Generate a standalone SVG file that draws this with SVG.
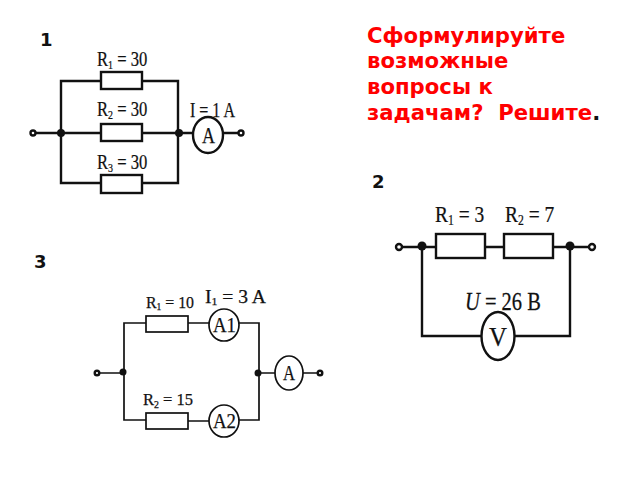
<svg xmlns="http://www.w3.org/2000/svg" width="640" height="480" viewBox="0 0 640 480">
<style>
.w{fill:none;stroke:#111;stroke-width:2.4}
.r{fill:#fff;stroke:#111;stroke-width:2.4}
.n{fill:#111}
.t{fill:#fff;stroke:#111;stroke-width:2.4}
.k{stroke-width:1.7}
.h{font-family:"DejaVu Sans",sans-serif;font-weight:bold}
.q{font-size:21.2px;fill:#f00}
.num{font-size:18px;fill:#111}
.l{font-family:"Liberation Serif",serif;fill:#111;stroke:#111;stroke-width:.25}
.a{font-size:21px}
.b{font-size:24px}
.s{font-size:.6em}
</style>
<rect width="640" height="480" fill="#fff"/>
<g id="connectors">
<path class="w" d="M35 133H101M142 133H193M223 133H238M61 133V81H101M142 81H178V183H142M61 133V183H101"/>
<path class="w" d="M402 247H436M486 247H504M554 247H589M422 247V336H482M514 336H570V247"/>
<path class="w k" d="M100 373H124M258 373H275M303 373H317M124 373V323H146M188 323H209M239 323H259V420H239M209 421H188M146 420H124V373"/>
</g>
<g id="heading">
<text class="h q" x="367" y="43">Сформулируйте</text>
<text class="h q" x="367" y="68">возможные</text>
<text class="h q" x="367" y="94">вопросы к</text>
<text class="h q" x="367" y="120" xml:space="preserve">задачам?  Решите<tspan fill="#111">.</tspan></text>
</g>
<g id="num1"><text class="h num" x="40" y="46">1</text></g>
<g id="num2"><text class="h num" x="372" y="188">2</text></g>
<g id="num3"><text class="h num" x="34" y="268">3</text></g>
<g id="c1-r1"><rect class="r" x="101" y="72" width="41" height="17"/><text class="l a" transform="translate(97 66) scale(.79 1)">R<tspan class="s" dy="3">1</tspan><tspan dy="-3"> = 30</tspan></text></g>
<g id="c1-r2"><rect class="r" x="101" y="124" width="41" height="17"/><text class="l a" transform="translate(97 116) scale(.79 1)">R<tspan class="s" dy="3">2</tspan><tspan dy="-3"> = 30</tspan></text></g>
<g id="c1-r3"><rect class="r" x="101" y="175" width="41" height="18"/><text class="l a" transform="translate(97 169) scale(.79 1)">R<tspan class="s" dy="3">3</tspan><tspan dy="-3"> = 30</tspan></text></g>
<g id="c1-ammeter"><ellipse class="r" cx="208" cy="135" rx="15" ry="18"/><text class="l" x="202" y="143" font-size="23" textLength="13" lengthAdjust="spacingAndGlyphs">A</text><text class="l a" x="190" y="117" textLength="45" lengthAdjust="spacingAndGlyphs">I = 1 A</text></g>
<g id="c1-nodes"><circle class="n" cx="61" cy="133" r="4"/><circle class="n" cx="179" cy="133" r="4"/><circle class="t" cx="33" cy="133" r="2.5"/><circle class="t" cx="241" cy="133" r="2.5"/></g>
<g id="c2-r1"><rect class="r" x="436" y="234" width="49" height="24"/><text class="l b" transform="translate(435 222) scale(.81 1)">R<tspan class="s" dy="3">1</tspan><tspan dy="-3"> = 3</tspan></text></g>
<g id="c2-r2"><rect class="r" x="504" y="234" width="49" height="24"/><text class="l b" transform="translate(505 222) scale(.81 1)">R<tspan class="s" dy="3">2</tspan><tspan dy="-3"> = 7</tspan></text></g>
<g id="c2-voltmeter"><ellipse class="r" cx="498" cy="336" rx="16.5" ry="24"/><text class="l" x="489" y="346" font-size="28" textLength="18" lengthAdjust="spacingAndGlyphs">V</text><text class="l" font-size="25" transform="translate(465 310) scale(.82 1)"><tspan font-style="italic">U</tspan> = 26 В</text></g>
<g id="c2-nodes"><circle class="n" cx="422" cy="246" r="4.5"/><circle class="n" cx="570" cy="246" r="4.5"/><circle class="t" cx="399" cy="247" r="3"/><circle class="t" cx="592" cy="247" r="3"/></g>
<g id="c3-r1"><rect class="r k" x="146" y="316" width="42" height="16"/><text class="l" x="146" y="308" font-size="17" textLength="48" lengthAdjust="spacingAndGlyphs">R<tspan class="s" dy="2">1</tspan><tspan dy="-2"> = 10</tspan></text></g>
<g id="c3-a1"><ellipse class="r k" cx="224" cy="325" rx="15" ry="16"/><text class="l" x="213" y="332" font-size="20" textLength="23" lengthAdjust="spacingAndGlyphs">A1</text><text class="l" x="205" y="303" font-size="18" textLength="61" lengthAdjust="spacingAndGlyphs">I<tspan class="s" dy="2">1</tspan><tspan dy="-2"> =  3  A</tspan></text></g>
<g id="c3-r2"><rect class="r k" x="146" y="413" width="42" height="16"/><text class="l" x="143" y="405" font-size="17" textLength="50" lengthAdjust="spacingAndGlyphs">R<tspan class="s" dy="3">2</tspan><tspan dy="-3"> =  15</tspan></text></g>
<g id="c3-a2"><ellipse class="r k" cx="224" cy="421" rx="15" ry="16"/><text class="l" x="213" y="428" font-size="20" textLength="23" lengthAdjust="spacingAndGlyphs">A2</text></g>
<g id="c3-ammeter"><ellipse class="r k" cx="289" cy="373" rx="14" ry="17"/><text class="l" x="283" y="380" font-size="20" textLength="12" lengthAdjust="spacingAndGlyphs">A</text></g>
<g id="c3-nodes"><circle class="n" cx="123" cy="372" r="3.5"/><circle class="n" cx="258" cy="373" r="3.5"/><circle class="t" cx="97" cy="373" r="2.3"/><circle class="t" cx="320" cy="373" r="2.3"/></g>
</svg>
